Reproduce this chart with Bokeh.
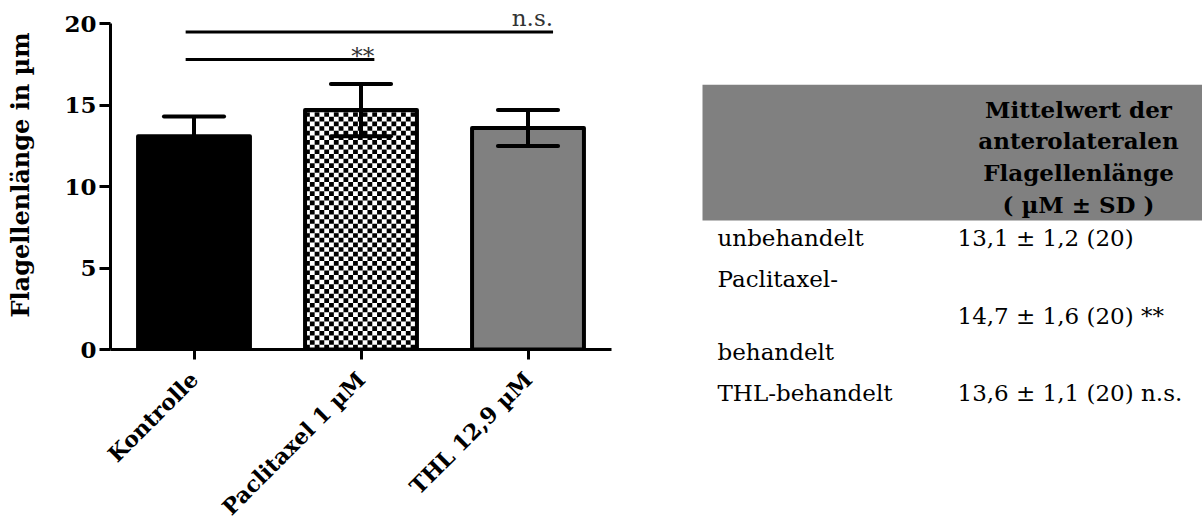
import math
from bokeh.plotting import figure
from bokeh.models import Range1d, FixedTicker
from bokeh.core.properties import value
from bokeh.embed import file_html
from bokeh.resources import INLINE

# ---------------- data ----------------
categories = ["Kontrolle", "Paclitaxel 1 µM", "THL 12,9 µM"]
means = [13.1, 14.7, 13.6]
sds = [1.2, 1.6, 1.1]
n_cells = [20, 20, 20]
bar_fills = ["black", "white", "#808080"]
y_ticks = [0, 5, 10, 15, 20]

sig_from = [0, 0]
sig_to = [2, 1]
sig_labels = ["n.s.", "**"]
sig_heights = [19.5, 17.8]

table_header = ["Mittelwert der", "anterolateralen", "Flagellenlänge", "( µM ± SD )"]
table_row_labels = [["unbehandelt"], ["Paclitaxel-", "behandelt"], ["THL-behandelt"]]
table_sig = ["", "**", "n.s."]

SERIF = "DejaVu Serif"

# ---------------- layout constants ----------------
W, H = 1202, 532
FRAME_LEFT, FRAME_RIGHT, FRAME_H = 110, 611, 360
FRAME_W = FRAME_RIGHT - FRAME_LEFT
PX_Y = 16.8                      # pixels per µm on the y axis
PX_X = FRAME_W / 3.0             # pixels per category
BAR_W = 0.67
CAP_W = 0.18

xs = list(range(len(categories)))

p = figure(width=W, height=H,
           x_range=Range1d(-0.5, 2.5), y_range=Range1d(0, FRAME_H / PX_Y),
           output_backend="svg", toolbar_location=None,
           min_border_left=FRAME_LEFT, min_border_right=W - FRAME_RIGHT,
           min_border_top=0, min_border_bottom=H - FRAME_H)
p.xgrid.visible = False
p.ygrid.visible = False
p.outline_line_color = None
p.background_fill_color = "white"
p.border_fill_color = "white"
# page-pixel coordinate system (for the table beside the chart)
p.extra_x_ranges = {"px": Range1d(FRAME_LEFT, FRAME_RIGHT)}
p.extra_y_ranges = {"px": Range1d(FRAME_H, 0)}

# bars: fill
p.vbar(x=xs, top=means, bottom=0, width=BAR_W, fill_color=bar_fills, line_color=None)

# checker texture for the Paclitaxel bar
cell_x = 4.8 / PX_X
cell_y = 4.8 / PX_Y
ql, qr, qb, qt = [], [], [], []
bi = 1
x0 = xs[bi] - BAR_W / 2
x1 = xs[bi] + BAR_W / 2
top = means[bi]
ncol = int(math.ceil((x1 - x0) / cell_x))
nrow = int(math.ceil(top / cell_y))
for i in range(ncol):
    for j in range(nrow):
        if (i + j) % 2 == 0:
            l = x0 + i * cell_x
            r = min(l + cell_x, x1)
            b = j * cell_y
            t_ = min(b + cell_y, top)
            ql.append(l); qr.append(r); qb.append(b); qt.append(t_)
p.quad(left=ql, right=qr, bottom=qb, top=qt, fill_color="black", line_color=None)

# bars: outline
p.vbar(x=xs, top=means, bottom=0, width=BAR_W, fill_color=None,
       line_color="black", line_width=4, line_join="round")

# error bars
lo = [m - s for m, s in zip(means, sds)]
hi = [m + s for m, s in zip(means, sds)]
p.segment(x0=xs, y0=lo, x1=xs, y1=hi, line_color="black", line_width=4)
p.segment(x0=[x - CAP_W for x in xs], y0=hi, x1=[x + CAP_W for x in xs], y1=hi,
          line_color="black", line_width=4, line_cap="round")
p.segment(x0=[x - CAP_W for x in xs], y0=lo, x1=[x + CAP_W for x in xs], y1=lo,
          line_color="black", line_width=4, line_cap="round")

# significance brackets
s_x0 = [a - 0.05 for a in sig_from]
s_x1 = [b + (0.15 if b == 2 else 0.08) for b in sig_to]
p.segment(x0=s_x0, y0=sig_heights, x1=s_x1, y1=sig_heights,
          line_color="black", line_width=3, level="overlay")
label_offsets_px = {"n.s.": 1, "**": -10}
p.text(x=s_x1, y=[h + label_offsets_px[l] / PX_Y for h, l in zip(sig_heights, sig_labels)],
       text=sig_labels, text_align="right", text_baseline="bottom",
       text_font=value(SERIF), text_font_size="23px", text_color="#333333",
       level="overlay")

# axes
p.yaxis.ticker = FixedTicker(ticks=y_ticks)
p.yaxis.bounds = (0, 20)
p.yaxis.axis_label = "Flagellenlänge in µm"
p.yaxis.axis_label_text_font = SERIF
p.yaxis.axis_label_text_font_style = "bold"
p.yaxis.axis_label_text_font_size = "24px"
p.yaxis.axis_label_text_color = "black"
p.yaxis.axis_label_standoff = 26
p.yaxis.major_label_text_font = SERIF
p.yaxis.major_label_text_font_style = "bold"
p.yaxis.major_label_text_font_size = "23px"
p.yaxis.major_label_text_color = "black"
p.yaxis.major_label_standoff = 3
p.yaxis.axis_line_width = 3
p.yaxis.major_tick_line_width = 3
p.yaxis.major_tick_out = 11
p.yaxis.major_tick_in = 0
p.yaxis.minor_tick_line_color = None

p.xaxis.ticker = FixedTicker(ticks=xs)
p.xaxis.major_label_overrides = {x: c for x, c in zip(xs, categories)}
p.xaxis.major_label_orientation = math.pi / 4
p.xaxis.major_label_text_font = SERIF
p.xaxis.major_label_text_font_style = "bold"
p.xaxis.major_label_text_font_size = "22px"
p.xaxis.major_label_text_color = "black"
p.xaxis.major_label_standoff = 16
p.xaxis.axis_line_width = 3
p.xaxis.major_tick_line_width = 3
p.xaxis.major_tick_out = 10
p.xaxis.major_tick_in = 0
p.xaxis.minor_tick_line_color = None

# ---------------- table (page-pixel coordinates) ----------------
TBL = dict(x_range_name="px", y_range_name="px", level="overlay")
p.quad(left=[702], right=[W], top=[87], bottom=[227],
       fill_color="#808080", line_color=None, **TBL)
p.text(x=[1078] * len(table_header), y=[112 + 32.7 * i for i in range(len(table_header))],
       text=table_header, text_align="center", text_baseline="middle",
       text_font=value(SERIF), text_font_style="bold", text_font_size="23px",
       text_color="black", **TBL)


def de(v):
    return f"{v:.1f}".replace(".", ",")


row_centers = [245, 325, 405]
lab_x, lab_y, lab_t = [], [], []
for yc, lines in zip(row_centers, table_row_labels):
    k = len(lines)
    for i, ln in enumerate(lines):
        lab_x.append(717)
        lab_y.append(yc + (i - (k - 1) / 2) * 75)
        lab_t.append(ln)
val_t = []
for m, s, n, sg in zip(means, sds, n_cells, table_sig):
    txt = f"{de(m)} ± {de(s)} ({n})"
    if sg:
        txt += " " + sg
    val_t.append(txt)

p.text(x=lab_x, y=lab_y, text=lab_t, text_align="left", text_baseline="middle",
       text_font=value(SERIF), text_font_size="23px", text_color="black", **TBL)
p.text(x=[957] * len(val_t), y=row_centers, text=val_t, text_align="left",
       text_baseline="middle", text_font=value(SERIF), text_font_size="23px",
       text_color="black", **TBL)

open("out.html", "w").write(file_html(p, INLINE))
